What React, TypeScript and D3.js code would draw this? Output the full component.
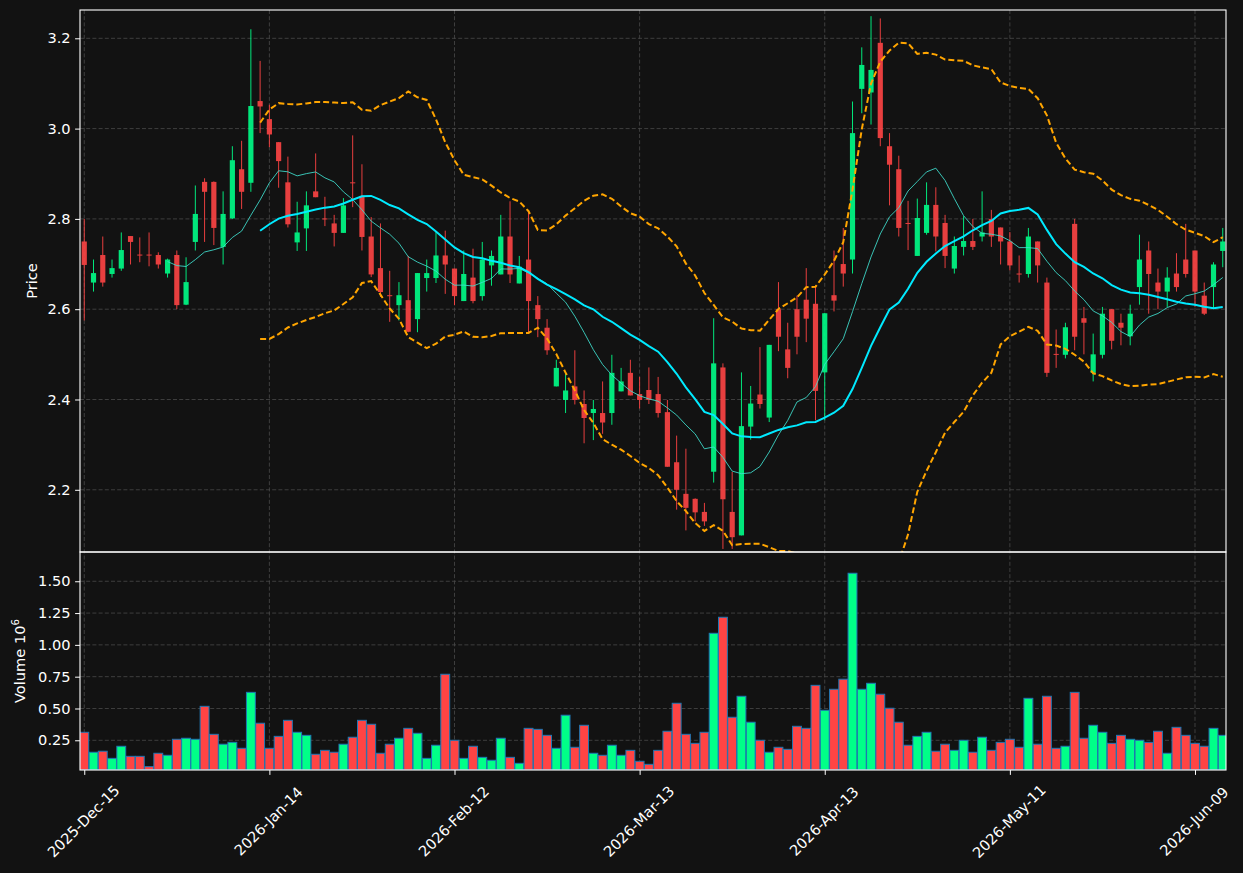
import { useEffect, useRef } from 'react';
import * as d3 from 'd3';

// daily OHLC (124 sessions)
const opens = [
  2.75, 2.659, 2.72, 2.678, 2.69, 2.762, 2.721, 2.721, 2.72, 2.679,
  2.72, 2.61, 2.749, 2.882, 2.882, 2.738, 2.801, 2.91, 2.88, 3.061,
  3.021, 2.97, 2.881, 2.748, 2.779, 2.861, 2.801, 2.79, 2.769, 2.881,
  2.851, 2.761, 2.691, 2.631, 2.609, 2.62, 2.578, 2.669, 2.669, 2.719,
  2.69, 2.618, 2.67, 2.629, 2.697, 2.677, 2.761, 2.657, 2.71, 2.609,
  2.559, 2.429, 2.399, 2.429, 2.39, 2.37, 2.37, 2.37, 2.418, 2.459,
  2.412, 2.421, 2.412, 2.372, 2.261, 2.191, 2.18, 2.151, 2.24, 2.471,
  2.151, 2.099, 2.34, 2.411, 2.36, 2.6, 2.511, 2.6, 2.621, 2.612,
  2.46, 2.631, 2.7, 2.71, 3.088, 3.08, 3.19, 2.961, 2.91, 2.791,
  2.718, 2.769, 2.831, 2.791, 2.69, 2.738, 2.751, 2.761, 2.8, 2.781,
  2.75, 2.679, 2.678, 2.75, 2.659, 2.501, 2.499, 2.789, 2.58, 2.459,
  2.499, 2.6, 2.57, 2.54, 2.649, 2.73, 2.659, 2.639, 2.679, 2.71,
  2.73, 2.63, 2.649, 2.729,
];
const highs = [
  2.8, 2.71, 2.761, 2.71, 2.77, 2.762, 2.759, 2.77, 2.726, 2.712,
  2.73, 2.715, 2.874, 2.89, 2.883, 2.861, 2.961, 2.973, 3.22, 3.15,
  3.053, 2.97, 2.938, 2.838, 2.861, 2.945, 2.849, 2.809, 2.846, 2.985,
  2.921, 2.804, 2.79, 2.685, 2.66, 2.718, 2.68, 2.71, 2.771, 2.774,
  2.69, 2.73, 2.734, 2.749, 2.73, 2.809, 2.839, 2.718, 2.815, 2.629,
  2.578, 2.488, 2.46, 2.509, 2.42, 2.399, 2.44, 2.499, 2.47, 2.488,
  2.45, 2.471, 2.45, 2.399, 2.32, 2.291, 2.181, 2.171, 2.58, 2.48,
  2.24, 2.46, 2.43, 2.516, 2.521, 2.66, 2.57, 2.63, 2.691, 2.653,
  2.592, 2.73, 2.78, 3.06, 3.18, 3.249, 3.244, 2.99, 2.94, 2.84,
  2.845, 2.881, 2.87, 2.809, 2.761, 2.806, 2.8, 2.861, 2.82, 2.781,
  2.771, 2.719, 2.78, 2.75, 2.67, 2.555, 2.57, 2.8, 2.605, 2.546,
  2.605, 2.6, 2.59, 2.61, 2.765, 2.75, 2.69, 2.693, 2.724, 2.789,
  2.73, 2.659, 2.704, 2.78,
];
const lows = [
  2.575, 2.639, 2.65, 2.67, 2.685, 2.699, 2.704, 2.695, 2.69, 2.67,
  2.6, 2.609, 2.73, 2.749, 2.742, 2.699, 2.8, 2.822, 2.86, 2.99,
  2.959, 2.869, 2.781, 2.729, 2.729, 2.848, 2.784, 2.739, 2.769, 2.826,
  2.73, 2.671, 2.627, 2.572, 2.575, 2.549, 2.549, 2.639, 2.658, 2.634,
  2.609, 2.618, 2.613, 2.619, 2.652, 2.677, 2.658, 2.657, 2.549, 2.538,
  2.499, 2.429, 2.37, 2.389, 2.303, 2.31, 2.324, 2.344, 2.418, 2.409,
  2.38, 2.39, 2.36, 2.251, 2.156, 2.11, 2.13, 2.12, 2.216, 2.069,
  2.069, 2.099, 2.311, 2.38, 2.35, 2.507, 2.447, 2.5, 2.527, 2.354,
  2.354, 2.595, 2.65, 2.679, 3.034, 3.009, 2.961, 2.83, 2.761, 2.731,
  2.718, 2.765, 2.728, 2.691, 2.679, 2.719, 2.731, 2.75, 2.738, 2.699,
  2.686, 2.659, 2.67, 2.659, 2.45, 2.47, 2.491, 2.509, 2.5, 2.44,
  2.491, 2.511, 2.52, 2.52, 2.61, 2.59, 2.6, 2.605, 2.639, 2.67,
  2.605, 2.587, 2.6, 2.693,
];
const closes = [
  2.698, 2.68, 2.659, 2.691, 2.731, 2.749, 2.719, 2.719, 2.699, 2.71,
  2.609, 2.66, 2.811, 2.86, 2.78, 2.811, 2.93, 2.86, 3.05, 3.049,
  2.987, 2.928, 2.788, 2.77, 2.83, 2.848, 2.8, 2.769, 2.83, 2.879,
  2.76, 2.677, 2.638, 2.629, 2.631, 2.55, 2.68, 2.68, 2.719, 2.699,
  2.629, 2.678, 2.618, 2.71, 2.718, 2.761, 2.677, 2.694, 2.618, 2.578,
  2.509, 2.47, 2.42, 2.399, 2.359, 2.379, 2.349, 2.459, 2.44, 2.409,
  2.399, 2.399, 2.37, 2.251, 2.2, 2.16, 2.15, 2.13, 2.48, 2.179,
  2.095, 2.341, 2.391, 2.39, 2.521, 2.539, 2.47, 2.539, 2.579, 2.419,
  2.591, 2.619, 2.679, 2.99, 3.141, 3.13, 2.979, 2.92, 2.78, 2.789,
  2.802, 2.831, 2.761, 2.718, 2.74, 2.751, 2.738, 2.77, 2.761, 2.75,
  2.697, 2.678, 2.761, 2.697, 2.459, 2.5, 2.56, 2.539, 2.57, 2.5,
  2.59, 2.53, 2.559, 2.59, 2.71, 2.678, 2.639, 2.67, 2.649, 2.678,
  2.639, 2.59, 2.699, 2.75,
];
// volume in millions
const volumes = [
  0.313, 0.156, 0.164, 0.108, 0.203, 0.124, 0.124, 0.043, 0.148, 0.132,
  0.258, 0.266, 0.258, 0.517, 0.297, 0.219, 0.234, 0.187, 0.627, 0.384,
  0.187, 0.281, 0.407, 0.313, 0.289, 0.14, 0.171, 0.156, 0.219, 0.274,
  0.407, 0.376, 0.148, 0.219, 0.266, 0.344, 0.305, 0.108, 0.211, 0.769,
  0.25, 0.108, 0.203, 0.116, 0.093, 0.266, 0.116, 0.069, 0.344, 0.336,
  0.289, 0.187, 0.447, 0.195, 0.368, 0.148, 0.132, 0.211, 0.132, 0.171,
  0.085, 0.061, 0.171, 0.321, 0.541, 0.297, 0.226, 0.313, 1.091, 1.217,
  0.431, 0.596, 0.392, 0.25, 0.156, 0.195, 0.179, 0.36, 0.344, 0.682,
  0.486, 0.651, 0.73, 1.563, 0.651, 0.698, 0.612, 0.502, 0.392, 0.211,
  0.281, 0.313, 0.164, 0.219, 0.171, 0.25, 0.156, 0.274, 0.171, 0.234,
  0.258, 0.195, 0.58, 0.219, 0.596, 0.187, 0.203, 0.627, 0.266, 0.368,
  0.313, 0.226, 0.289, 0.258, 0.25, 0.234, 0.321, 0.148, 0.352, 0.289,
  0.226, 0.203, 0.344, 0.289,
];

const tickIndex = [0, 20, 40, 60, 80, 100, 120];
const tickLabels = ['2025-Dec-15', '2026-Jan-14', '2026-Feb-12', '2026-Mar-13', '2026-Apr-13', '2026-May-11', '2026-Jun-09'];
const priceTicks = [2.2, 2.4, 2.6, 2.8, 3.0, 3.2];
const volumeTicks = [0.25, 0.5, 0.75, 1.0, 1.25, 1.5];

const UP = '#00ff88';
const DOWN = '#ff4444';

// simple moving average, null until enough points
function sma(values: number[], n: number) {
  return values.map((_, i) => (i < n - 1 ? null : d3.mean(values.slice(i - n + 1, i + 1))!));
}

function band(values: number[], n: number, k: number) {
  return values.map((_, i) => {
    if (i < n - 1) return null;
    const w = values.slice(i - n + 1, i + 1);
    const m = d3.mean(w)!;
    const sd = Math.sqrt(d3.mean(w, v => (v - m) * (v - m))!);
    return m + k * sd;
  });
}

export default function App() {
  const chartRef = useRef<SVGSVGElement>(null);

  useEffect(() => {
    if (!chartRef.current) return;
    document.body.style.margin = '0';
    document.body.style.background = '#121212';

    const svg = d3.select(chartRef.current);
    svg.selectAll('*').remove();

    const left = 80, right = 1226;
    const priceTop = 10, priceBottom = 552;
    const volTop = 552, volBottom = 770;
    const font = 'DejaVu Sans, sans-serif';
    const fs = 14.6;

    const idx = d3.range(closes.length);
    const x = d3.scaleLinear().domain([-0.46, 123.35]).range([left, right]);
    const step = x(1) - x(0);
    const y = d3.scaleLinear().domain([2.0622, 3.2627]).range([priceBottom, priceTop]);
    const yv = d3.scaleLinear().domain([0.0165, 1.73]).range([volBottom, volTop]);

    const defs = svg.append('defs');
    defs.append('clipPath').attr('id', 'clip-price')
      .append('rect').attr('x', left).attr('y', priceTop).attr('width', right - left).attr('height', priceBottom - priceTop);
    defs.append('clipPath').attr('id', 'clip-vol')
      .append('rect').attr('x', left).attr('y', volTop).attr('width', right - left).attr('height', volBottom - volTop);

    // grid
    const grid = svg.append('g').attr('stroke', '#4a4a4a').attr('stroke-width', 0.8).attr('stroke-dasharray', '4,2.2');
    grid.selectAll('.gx').data(tickIndex).join('line')
      .attr('x1', d => x(d)).attr('x2', d => x(d)).attr('y1', priceTop).attr('y2', volBottom);
    grid.selectAll('.gy').data(priceTicks).join('line')
      .attr('x1', left).attr('x2', right).attr('y1', d => y(d)).attr('y2', d => y(d));
    grid.selectAll('.gv').data(volumeTicks).join('line')
      .attr('x1', left).attr('x2', right).attr('y1', d => yv(d)).attr('y2', d => yv(d));

    // candles
    const candles = svg.append('g').attr('clip-path', 'url(#clip-price)').attr('opacity', 0.9);
    const bw = step * 0.56;
    candles.selectAll('line').data(idx).join('line')
      .attr('x1', i => x(i)).attr('x2', i => x(i))
      .attr('y1', i => y(highs[i])).attr('y2', i => y(lows[i]))
      .attr('stroke', i => (closes[i] >= opens[i] ? UP : DOWN))
      .attr('stroke-width', 1);
    candles.selectAll('rect').data(idx).join('rect')
      .attr('x', i => x(i) - bw / 2)
      .attr('width', bw)
      .attr('y', i => y(Math.max(opens[i], closes[i])))
      .attr('height', i => Math.max(1, Math.abs(y(opens[i]) - y(closes[i]))))
      .attr('fill', i => (closes[i] >= opens[i] ? UP : DOWN));

    // moving averages and bands
    const lineGen = d3.line<number | null>()
      .defined(d => d != null)
      .x((_, i) => x(i))
      .y(d => y(d as number));
    const lines = svg.append('g').attr('clip-path', 'url(#clip-price)').attr('fill', 'none');
    lines.append('path').attr('d', lineGen(sma(closes, 10)))
      .attr('stroke', '#40e0d0').attr('stroke-opacity', 0.85).attr('stroke-width', 1);
    lines.append('path').attr('d', lineGen(sma(closes, 20)))
      .attr('stroke', '#00eaff').attr('stroke-width', 2);
    lines.append('path').attr('d', lineGen(band(closes, 20, 2)))
      .attr('stroke', '#ffa500').attr('stroke-width', 2).attr('stroke-dasharray', '6,3');
    lines.append('path').attr('d', lineGen(band(closes, 20, -2)))
      .attr('stroke', '#ffa500').attr('stroke-width', 2).attr('stroke-dasharray', '6,3');

    // volume
    const vw = step * 0.96;
    svg.append('g').attr('clip-path', 'url(#clip-vol)')
      .selectAll('rect').data(idx).join('rect')
      .attr('x', i => x(i) - vw / 2)
      .attr('width', vw)
      .attr('y', i => yv(volumes[i]))
      .attr('height', i => yv(0.0165) - yv(volumes[i]))
      .attr('fill', i => (closes[i] >= opens[i] ? UP : DOWN))
      .attr('stroke', '#1f77b4')
      .attr('stroke-width', 1);

    // frames
    const frame = svg.append('g').attr('fill', 'none').attr('stroke', '#ffffff').attr('stroke-width', 1.1);
    frame.append('rect').attr('x', left).attr('y', priceTop).attr('width', right - left).attr('height', priceBottom - priceTop);
    frame.append('rect').attr('x', left).attr('y', volTop).attr('width', right - left).attr('height', volBottom - volTop);

    // y axes
    const yAxis = svg.append('g').attr('transform', `translate(${left},0)`)
      .call(d3.axisLeft(y).tickValues(priceTicks).tickFormat(d3.format('.1f')).tickSize(4.9).tickPadding(4.5));
    const vAxis = svg.append('g').attr('transform', `translate(${left},0)`)
      .call(d3.axisLeft(yv).tickValues(volumeTicks).tickFormat(d3.format('.2f')).tickSize(4.9).tickPadding(4.5));
    const xAxis = svg.append('g').attr('transform', `translate(0,${volBottom})`)
      .call(d3.axisBottom(x).tickValues(tickIndex).tickFormat(() => '').tickSize(4.9));
    [yAxis, vAxis, xAxis].forEach(g => {
      g.select('.domain').remove();
      g.selectAll('.tick line').attr('stroke', '#ffffff').attr('stroke-width', 1);
      g.selectAll('.tick text').attr('fill', '#ffffff').style('font-family', font).style('font-size', `${fs}px`);
    });

    // x tick labels, rotated
    svg.append('g').selectAll('text').data(tickIndex).join('text')
      .attr('transform', d => `translate(${x(d) - 1},821) rotate(-45)`)
      .attr('text-anchor', 'middle')
      .attr('dominant-baseline', 'central')
      .attr('fill', '#ffffff')
      .style('font-family', font)
      .style('font-size', `${fs}px`)
      .text((_, i) => tickLabels[i]);

    // axis labels
    svg.append('text')
      .attr('transform', `translate(37,${(priceTop + priceBottom) / 2}) rotate(-90)`)
      .attr('text-anchor', 'middle')
      .attr('fill', '#ffffff')
      .style('font-family', font).style('font-size', `${fs}px`)
      .text('Price');

    const vl = svg.append('text')
      .attr('transform', `translate(25,${(volTop + volBottom) / 2}) rotate(-90)`)
      .attr('text-anchor', 'middle')
      .attr('fill', '#ffffff')
      .style('font-family', font).style('font-size', `${fs}px`);
    vl.append('tspan').text('Volume  10');
    vl.append('tspan').attr('dy', -6).style('font-size', '10.2px').text('6');
  }, []);

  return (
    <div style={{ width: 1243, height: 873, background: '#121212' }}>
      <svg ref={chartRef} width={1243} height={873} style={{ display: 'block', background: '#121212' }}></svg>
    </div>
  );
}
